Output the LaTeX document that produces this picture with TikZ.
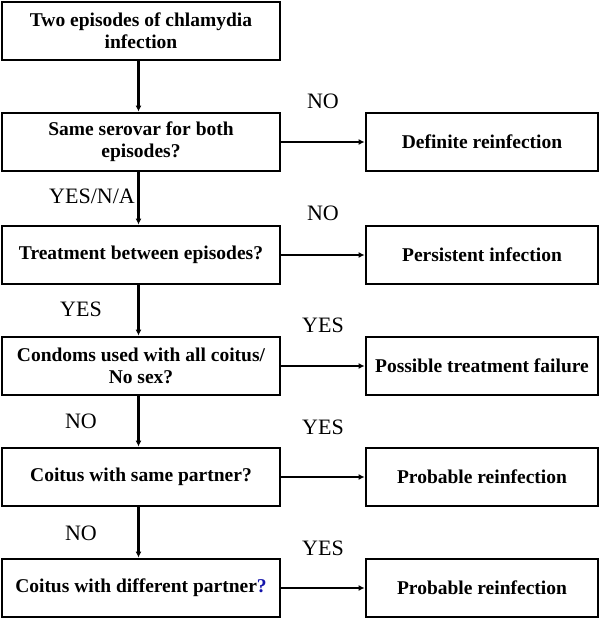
\documentclass[tikz,border=0pt]{standalone}
\usepackage{fontspec}
\setmainfont{Liberation Serif}
\usetikzlibrary{arrows.meta}
\definecolor{qblue}{RGB}{20,20,170}
\tikzset{
  lbox/.style={draw, line width=2.8pt, minimum width=278pt, minimum height=58pt, inner sep=0pt, align=center, font=\fontsize{19.5}{22}\selectfont\bfseries},
  rbox/.style={lbox, minimum width=232pt},
  conn/.style={line width=2.2pt, -{Latex[length=6pt,width=6pt]}},
  lab/.style={font=\fontsize{22}{24}\selectfont, inner sep=0pt}
}
\begin{document}
\begin{tikzpicture}[x=1pt,y=-1pt]
\useasboundingbox (0,0) rectangle (600,619);
\node[lbox] (q0) at (141,31) {Two episodes of chlamydia\\infection};
\node[lbox] (q1) at (141,142) {Same serovar for both\\episodes?};
\node[lbox] (q2) at (141,255) {Treatment between episodes?};
\node[lbox] (q3) at (141,366) {Condoms used with all coitus/\\No sex?};
\node[lbox] (q4) at (141,477) {Coitus with same partner?};
\node[lbox] (q5) at (141,588) {Coitus with different partner\textcolor{qblue}{?}};
\node[rbox] (r1) at (482,142) {Definite reinfection};
\node[rbox] (r2) at (482,255) {Persistent infection};
\node[rbox] (r3) at (482,366) {Possible treatment failure};
\node[rbox] (r4) at (482,477) {Probable reinfection};
\node[rbox] (r5) at (482,588) {Probable reinfection};
\foreach \a/\b in {q0/q1,q1/q2,q2/q3,q3/q4,q4/q5}
  \draw[conn] ([xshift=-2.5pt]\a.south) -- ([xshift=-2.5pt]\b.north);
\foreach \i in {1,...,5}
  \draw[conn] (q\i.east) -- (r\i.west);
\node[lab] (n1) at (323,101) {NO};
\node[lab] (n2) at (323,213) {NO};
\node[lab] (y3) at (323,325) {YES};
\node[lab] (y4) at (323,427) {YES};
\node[lab] (y5) at (323,548) {YES};
\node[lab] (l1) at (92,196) {YES/N/A};
\node[lab] (l2) at (81,309) {YES};
\node[lab] (l3) at (81,421) {NO};
\node[lab] (l4) at (81,533) {NO};
\end{tikzpicture}
\end{document}
